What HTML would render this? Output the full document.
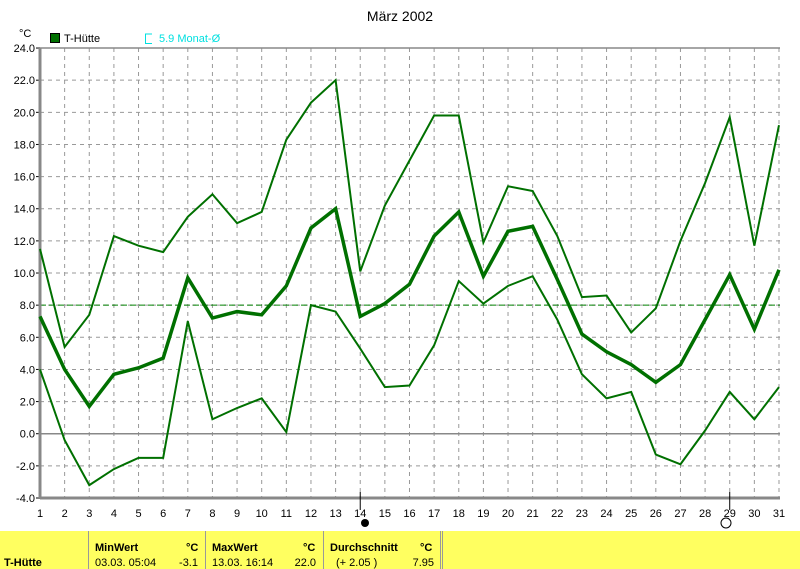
<!DOCTYPE html>
<html><head><meta charset="utf-8"><style>
body{margin:0;width:800px;height:569px;background:#fff;overflow:hidden;font-family:"Liberation Sans",sans-serif}
svg{position:absolute;left:0;top:0}
</style></head><body>
<svg id="s" width="800" height="569" xmlns="http://www.w3.org/2000/svg" font-family="Liberation Sans, sans-serif" font-size="11">
<text x="400" y="21" text-anchor="middle" font-size="14">März 2002</text>
<text x="19" y="37" font-size="11">°C</text>
<rect x="50.5" y="33.5" width="9" height="9" fill="#007000" stroke="#000"/>
<text x="64" y="42">T-Hütte</text>
<path d="M152 34 H145.5 V43.5 H152" fill="none" stroke="#00e0e0"/>
<text x="159" y="42" fill="#00e0e0">5.9 Monat-Ø</text>
<rect x="0" y="531" width="800" height="38" fill="#ffff60"/>
<g stroke="#999" stroke-width="1"><line x1="88.5" y1="531" x2="88.5" y2="569"/><line x1="205.5" y1="531" x2="205.5" y2="569"/><line x1="323.5" y1="531" x2="323.5" y2="569"/><line x1="440.5" y1="531" x2="440.5" y2="569"/><line x1="442.5" y1="531" x2="442.5" y2="569"/></g>
<g font-size="11" font-weight="bold"><text x="4" y="566">T-Hütte</text><text x="95" y="551">MinWert</text><text x="186" y="551">°C</text><text x="212" y="551">MaxWert</text><text x="303" y="551">°C</text><text x="330" y="551">Durchschnitt</text><text x="420" y="551">°C</text></g>
<g font-size="11"><text x="95" y="566">03.03.  05:04</text><text x="198" y="566" text-anchor="end">-3.1</text><text x="212" y="566">13.03.  16:14</text><text x="316" y="566" text-anchor="end">22.0</text><text x="336" y="566">(+ 2.05 )</text><text x="434" y="566" text-anchor="end">7.95</text></g>
<circle cx="365" cy="523" r="4" fill="#000"/>
<circle cx="726" cy="523" r="5" fill="#fff" stroke="#000"/>
<g id="g"></g>
</svg>
<script>
var g=document.getElementById('g'),h='';
function X(d){return 40+(d-1)*24.633}
function Y(v){return 498-(v+4)*16.07}
for(var d=2;d<=31;d++){h+='<line x1="'+X(d)+'" y1="48" x2="'+X(d)+'" y2="498" stroke="#999" stroke-dasharray="4,4"/>';}
for(var v=-4;v<=24;v+=2){var y=Y(v);if(v!=0&&v!=-4)h+='<line x1="40" y1="'+y+'" x2="780" y2="'+y+'" stroke="#999" stroke-dasharray="4,4"/>';
h+='<line x1="36" y1="'+y+'" x2="40" y2="'+y+'" stroke="#000"/><text x="35" y="'+(y+4)+'" text-anchor="end">'+v.toFixed(1)+'</text>';}
h+='<line x1="40" y1="'+Y(0)+'" x2="780" y2="'+Y(0)+'" stroke="#888" stroke-width="1.5"/>';
h+='<line x1="40" y1="'+Y(8)+'" x2="780" y2="'+Y(8)+'" stroke="#008000" stroke-dasharray="6,3"/>';
h+='<line x1="40" y1="48" x2="40" y2="498" stroke="#888" stroke-width="3"/><line x1="40" y1="498" x2="780" y2="498" stroke="#888" stroke-width="3"/><line x1="40" y1="48" x2="780" y2="48" stroke="#888" stroke-width="1.5"/>';
for(var d=1;d<=31;d++){h+='<text x="'+X(d)+'" y="517" text-anchor="middle">'+d+'</text>';}
h+='<line x1="'+X(14)+'" y1="492" x2="'+X(14)+'" y2="510" stroke="#000"/><line x1="'+X(29)+'" y1="492" x2="'+X(29)+'" y2="510" stroke="#000"/>';
var mx=[11.5,5.4,7.4,12.3,11.7,11.3,13.5,14.9,13.1,13.8,18.3,20.6,22.0,10.1,14.2,17.0,19.8,19.8,11.9,15.4,15.1,12.3,8.5,8.6,6.3,7.8,12.0,15.6,19.7,11.7,19.2];
var mn=[7.3,4.0,1.7,3.7,4.1,4.7,9.7,7.2,7.6,7.4,9.2,12.8,14.0,7.3,8.1,9.3,12.3,13.8,9.8,12.6,12.9,9.6,6.2,5.1,4.3,3.2,4.3,7.1,9.9,6.5,10.2];
var mi=[4.0,-0.4,-3.2,-2.2,-1.5,-1.5,7.0,0.9,1.6,2.2,0.1,8.0,7.6,5.3,2.9,3.0,5.5,9.5,8.1,9.2,9.8,7.1,3.7,2.2,2.6,-1.3,-1.9,0.2,2.6,0.9,2.9];
function P(a,w){return '<polyline fill="none" stroke="#007000" stroke-width="'+w+'" points="'+a.map(function(v,i){return X(i+1)+','+Y(v)}).join(' ')+'"/>';}
h+=P(mx,2)+P(mi,2)+P(mn,3.5);
g.innerHTML=h;
</script>
</body></html>
